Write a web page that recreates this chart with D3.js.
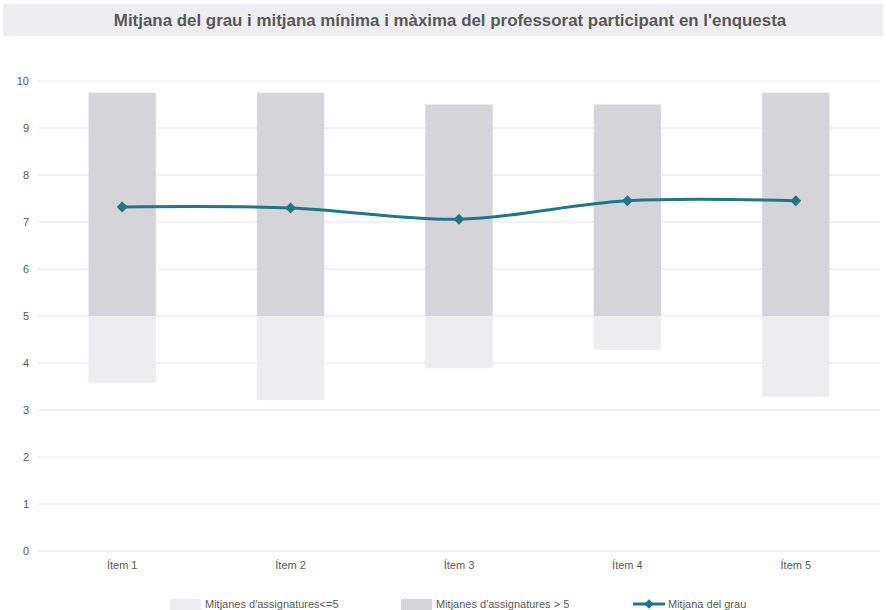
<!DOCTYPE html>
<html><head><meta charset="utf-8">
<script src="https://cdn.jsdelivr.net/npm/d3@7"></script>
<style>body{margin:0;background:#fff;}svg{display:block;font-family:"Liberation Sans",Arial,sans-serif;}</style>
</head><body><svg id="c" width="886" height="610"></svg>
<script>
const categories = ["Ítem 1","Ítem 2","Ítem 3","Ítem 4","Ítem 5"];
const minValues = [3.58, 3.21, 3.89, 4.28, 3.28];
const maxValues = [9.75, 9.75, 9.5, 9.5, 9.75];
const meanValues = [7.32, 7.30, 7.06, 7.45, 7.45];
const yTicks = [0,1,2,3,4,5,6,7,8,9,10];
const threshold = 5;
const title = "Mitjana del grau i mitjana mínima i màxima del professorat participant en l'enquesta";
const legendLabels = ["Mitjanes d'assignatures<=5","Mitjanes d'assignatures > 5","Mitjana del grau"];

const svg = d3.select("#c");
const colLow = "#ededef", colHigh = "#d5d5d9", colLine = "#22748d";

svg.append("rect").attr("x",3).attr("y",4).attr("width",880).attr("height",32).attr("fill","#eeeef0");
svg.append("text").attr("x",450).attr("y",26).attr("text-anchor","middle")
  .attr("font-size",16.9).attr("font-weight","bold").attr("fill","#595959").text(title);

const x = d3.scaleBand().domain(categories).range([38,880]);
const y = d3.scaleLinear().domain([0,10]).range([551,81]);

const grid = svg.append("g");
yTicks.forEach(t=>{
  grid.append("line").attr("x1",38).attr("x2",880).attr("y1",y(t)).attr("y2",y(t))
    .attr("stroke","#e4e4e4").attr("stroke-width",1);
});
const yAxis = d3.axisLeft(y).tickValues(yTicks).tickSize(0).tickPadding(0);
const ya = svg.append("g").attr("transform","translate(29,0)").call(yAxis);
ya.select(".domain").remove();
ya.selectAll("text").attr("font-size",11).attr("fill","#595959").attr("font-family","Liberation Sans, Arial, sans-serif");

const xAxis = d3.axisBottom(x).tickSize(0).tickPadding(0);
const xa = svg.append("g").attr("transform","translate(0,561)").call(xAxis);
xa.select(".domain").remove();
xa.selectAll("text").attr("font-size",11).attr("fill","#595959").attr("dy","0.71em").attr("font-family","Liberation Sans, Arial, sans-serif");

const bw = x.bandwidth()*0.4;
const cx = d => x(d)+x.bandwidth()/2;
svg.append("g").selectAll("rect").data(categories).join("rect")
  .attr("x",d=>cx(d)-bw/2).attr("width",bw)
  .attr("y",y(threshold)).attr("height",(d,i)=>y(minValues[i])-y(threshold)).attr("fill",colLow);
svg.append("g").selectAll("rect").data(categories).join("rect")
  .attr("x",d=>cx(d)-bw/2).attr("width",bw)
  .attr("y",(d,i)=>y(maxValues[i])).attr("height",(d,i)=>y(threshold)-y(maxValues[i])).attr("fill",colHigh);

const line = d3.line().x((d,i)=>cx(categories[i])).y(d=>y(d)).curve(d3.curveCatmullRom.alpha(0.5));
svg.append("path").attr("d",line(meanValues)).attr("fill","none").attr("stroke",colLine).attr("stroke-width",3);
svg.append("g").selectAll("path").data(meanValues).join("path")
  .attr("transform",(d,i)=>`translate(${cx(categories[i])},${y(d)}) rotate(45)`)
  .attr("d",d3.symbol().type(d3.symbolSquare).size(60)).attr("fill",colLine);

// legend
const lg = svg.append("g").attr("font-size",11).attr("fill","#595959");
lg.append("rect").attr("x",170).attr("y",599).attr("width",31).attr("height",11).attr("fill",colLow);
lg.append("text").attr("x",205).attr("y",608).text(legendLabels[0]);
lg.append("rect").attr("x",401).attr("y",599).attr("width",31).attr("height",11).attr("fill",colHigh);
lg.append("text").attr("x",436).attr("y",608).text(legendLabels[1]);
lg.append("line").attr("x1",633).attr("x2",665).attr("y1",604).attr("y2",604).attr("stroke",colLine).attr("stroke-width",3);
lg.append("path").attr("transform","translate(649,604) rotate(45)").attr("d",d3.symbol().type(d3.symbolSquare).size(45)).attr("fill",colLine);
lg.append("text").attr("x",668).attr("y",608).text(legendLabels[2]);
</script></body></html>
